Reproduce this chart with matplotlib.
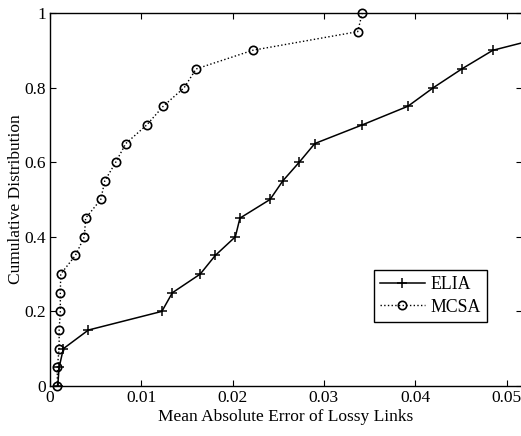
import matplotlib
matplotlib.use("Agg")
import matplotlib.pyplot as plt

plt.rcParams['font.family'] = ['Liberation Serif', 'DejaVu Serif']

# cumulative levels
cdf = [0, 0.05, 0.1, 0.15, 0.2, 0.25, 0.3, 0.35, 0.4, 0.45, 0.5,
       0.55, 0.6, 0.65, 0.7, 0.75, 0.8, 0.85, 0.9, 0.95, 1.0]

elia_err = [0.00084, 0.0010, 0.00146, 0.0042, 0.01225, 0.0134, 0.01645, 0.0181,
            0.0203, 0.0208, 0.0241, 0.0255, 0.0273, 0.0290, 0.0342, 0.0392,
            0.0420, 0.0451, 0.0485, 0.0565, 0.0650]
mcsa_err = [0.0008, 0.0008, 0.0010, 0.0010, 0.00113, 0.00113, 0.00117, 0.00278,
            0.00376, 0.0039, 0.00556, 0.0060, 0.0072, 0.0083, 0.0106, 0.0124,
            0.0147, 0.0160, 0.0222, 0.0337, 0.0342]

fig = plt.figure(figsize=(5.21, 4.36), dpi=100)
ax = fig.add_axes([0.096, 0.1147, 0.906, 0.8555])

ax.plot(elia_err, cdf, color='black', linewidth=1.1, marker='+', markersize=6.5,
        markeredgewidth=1.1, label='ELIA')
ax.plot(mcsa_err, cdf, color='black', linewidth=1.0, linestyle=':', marker='o',
        markersize=6, markerfacecolor='none', markeredgewidth=1.2, label='MCSA',
        clip_on=False)

ax.set_xlim(0, 0.0517)
ax.set_ylim(0, 1)
ax.set_xticks([0, 0.01, 0.02, 0.03, 0.04, 0.05])
ax.set_xticklabels(['0', '0.01', '0.02', '0.03', '0.04', '0.05'])
ax.set_yticks([0, 0.2, 0.4, 0.6, 0.8, 1])
ax.set_yticklabels(['0', '0.2', '0.4', '0.6', '0.8', '1'])
ax.tick_params(direction='in', top=True, right=True, labelsize=12.5, length=4,
               width=0.8, pad=3)
for s in ax.spines.values():
    s.set_linewidth(1.0)

ax.set_xlabel('Mean Absolute Error of Lossy Links', fontsize=12.5, labelpad=2)
ax.set_ylabel('Cumulative Distribution', fontsize=12.5, labelpad=0)

leg = ax.legend(loc='upper left', bbox_to_anchor=(374 / 521, 1 - 270 / 436),
                bbox_transform=fig.transFigure, fontsize=12.8, frameon=True,
                fancybox=False, edgecolor='black', framealpha=1,
                handlelength=2.5, borderpad=0.35, labelspacing=0.3,
                handletextpad=0.3, borderaxespad=0)
leg.get_frame().set_linewidth(1.0)

fig.savefig('out.png', dpi=100)
